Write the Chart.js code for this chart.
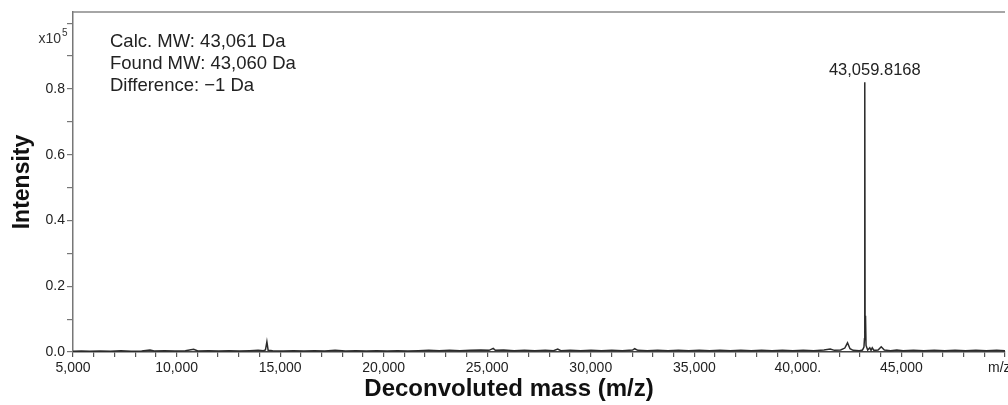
<!DOCTYPE html>
<html lang="en">
<head>
  <meta charset="UTF-8" />
  <title>Deconvoluted mass spectrum</title>
  <script src="https://cdn.jsdelivr.net/npm/chart.js"></script>
  <style>
    body { margin: 0; background: #fff; overflow: hidden; }
    .wrap { width: 1008px; height: 405px; }
  </style>
</head>
<body>
  <div class="wrap"><canvas id="spectrum"></canvas></div>

  <script>
    // deconvoluted spectrum, intensity in units of 1e5
    const masses = [
      5000, 5400, 5800, 6300, 6800, 7300, 7800, 8300, 8700, 8900,
      9400, 9900, 10400, 10800, 11000, 11500, 12000, 12500, 13000, 13500,
      13900, 14150, 14250, 14320, 14380, 14600, 15100, 15600, 16100, 16600,
      17100, 17600, 18100, 18600, 19100, 19600, 20100, 20600, 21100, 21600,
      22100, 22600, 23100, 23600, 24100, 24600, 25000, 25200, 25300, 25700,
      26200, 26700, 27200, 27700, 28100, 28300, 28450, 28900, 29400, 29900,
      30400, 30900, 31400, 31900, 32000, 32150, 32600, 33100, 33600, 34100,
      34600, 35100, 35600, 36100, 36600, 37100, 37600, 38100, 38600, 39100,
      39600, 40100, 40600, 41100, 41400, 41600, 41900, 42100, 42230, 42350,
      42500, 42800, 42950, 43020, 43045, 43059.8168, 43075, 43095, 43120, 43200,
      43300, 43360, 43420, 43500, 43700, 43850, 44000, 44300, 44600, 44900,
      45400, 45900, 46400, 46900, 47400, 47900, 48400, 48900, 49400, 49800
    ];
    const intensities = [
      0.002, 0.003, 0.002, 0.003, 0.002, 0.004, 0.002, 0.003, 0.006, 0.003,
      0.004, 0.003, 0.004, 0.008, 0.003, 0.004, 0.003, 0.004, 0.003, 0.004,
      0.005, 0.004, 0.006, 0.031, 0.005, 0.004, 0.003, 0.004, 0.003, 0.004,
      0.003, 0.005, 0.003, 0.004, 0.003, 0.004, 0.003, 0.004, 0.003, 0.004,
      0.005, 0.004, 0.005, 0.004, 0.005, 0.006, 0.005, 0.011, 0.005, 0.006,
      0.004, 0.005, 0.004, 0.005, 0.004, 0.009, 0.004, 0.005, 0.004, 0.005,
      0.004, 0.005, 0.004, 0.006, 0.010, 0.005, 0.004, 0.005, 0.004, 0.005,
      0.004, 0.005, 0.004, 0.005, 0.004, 0.005, 0.004, 0.005, 0.004, 0.005,
      0.004, 0.005, 0.004, 0.006, 0.009, 0.005, 0.006, 0.012, 0.028, 0.010,
      0.005, 0.004, 0.006, 0.015, 0.040, 0.820, 0.060, 0.110, 0.020, 0.006,
      0.013, 0.005, 0.013, 0.005, 0.006, 0.016, 0.006, 0.004, 0.006, 0.004,
      0.005, 0.004, 0.005, 0.004, 0.005, 0.004, 0.005, 0.004, 0.005, 0.004
    ];
    const xTickLabels = ['5,000', '10,000', '15,000', '20,000', '25,000', '30,000', '35,000', '40,000.', '45,000'];
    const yTickLabels = ['0.0', '0.2', '0.4', '0.6', '0.8'];
    const peakLabel = '43,059.8168';
    const notes = ['Calc. MW: 43,061 Da', 'Found MW: 43,060 Da', 'Difference: \u22121 Da'];

    const FONT = "'Liberation Sans', Arial, sans-serif";

    const extras = {
      id: 'extras',
      afterDraw(chart) {
        const c = chart.ctx;
        const a = chart.chartArea;
        const x = chart.scales.x, y = chart.scales.y;
        c.save();
        // top frame line
        c.strokeStyle = '#888';
        c.lineWidth = 1.5;
        c.beginPath();
        c.moveTo(a.left, a.top);
        c.lineTo(a.right, a.top);
        c.stroke();

        // x10^5 multiplier
        c.fillStyle = '#333';
        c.font = '14px ' + FONT;
        c.textAlign = 'right';
        c.textBaseline = 'alphabetic';
        c.fillText('x10', 61, 43);
        c.font = '10px ' + FONT;
        c.textAlign = 'left';
        c.fillText('5', 62, 36);

        // info block
        c.fillStyle = '#222';
        c.font = '18.5px ' + FONT;
        notes.forEach((t, i) => c.fillText(t, 110, 47 + i * 22));

        // peak label
        let top = 0;
        intensities.forEach((v, i) => { if (v > intensities[top]) top = i; });
        c.font = '16.5px ' + FONT;
        c.textAlign = 'center';
        c.fillText(peakLabel, x.getPixelForValue(masses[top]) + 10, y.getPixelForValue(intensities[top]) - 7);

        // axis title and unit
        c.fillStyle = '#111';
        c.font = 'bold 24px ' + FONT;
        c.textBaseline = 'middle';
        c.fillText('Deconvoluted mass (m/z)', 509, 389);
        c.font = '14px ' + FONT;
        c.textAlign = 'left';
        c.fillStyle = '#222';
        c.fillText('m/z', 988, 368);
        c.restore();
      }
    };

    const ctx = document.getElementById('spectrum').getContext('2d');
    new Chart(ctx, {
      type: 'scatter',
      data: {
        datasets: [{
          data: masses.map((m, i) => ({ x: m, y: intensities[i] })),
          showLine: true,
          borderColor: '#2b2b2b',
          borderWidth: 1.5,
          pointRadius: 0,
          tension: 0
        }]
      },
      options: {
        responsive: true,
        maintainAspectRatio: false,
        animation: false,
        layout: { padding: { top: 12, right: 0, bottom: 0, left: 0 } },
        plugins: { legend: { display: false }, tooltip: { enabled: false } },
        scales: {
          x: {
            type: 'linear',
            min: 5000,
            max: 49800,
            afterFit: s => { s.height = 53; },
            border: { display: true, color: '#444', width: 1.5 },
            grid: { drawOnChartArea: false, drawTicks: true, tickLength: 5, color: '#555', lineWidth: 1.2 },
            ticks: {
              stepSize: 1000,
              includeBounds: false,
              autoSkip: false,
              maxRotation: 0,
              minRotation: 0,
              padding: 3,
              color: '#222',
              font: { family: FONT, size: 14 },
              callback: function (v) {
                const k = Math.round(Number(v) / 1000) - 5;
                return (k >= 0 && k % 5 === 0) ? (xTickLabels[k / 5] || '') : '';
              }
            }
          },
          y: {
            min: 0,
            max: 1.034,
            afterFit: s => { s.width = 73; },
            border: { display: true, color: '#777', width: 1.5 },
            grid: { drawOnChartArea: false, drawTicks: true, tickLength: 6, color: '#777', lineWidth: 1.2 },
            ticks: {
              stepSize: 0.1,
              includeBounds: false,
              autoSkip: false,
              padding: 2,
              color: '#222',
              font: { family: FONT, size: 14 },
              callback: v => {
                const k = Math.round(v * 10);
                return (k % 2 === 0 && k <= 8) ? yTickLabels[k / 2] : '';
              }
            },
            title: {
              display: true,
              text: 'Intensity',
              color: '#111',
              font: { family: FONT, size: 23, weight: 'bold' },
              padding: { top: 9, bottom: 0 }
            }
          }
        }
      },
      plugins: [extras]
    });
  </script>
</body>
</html>
